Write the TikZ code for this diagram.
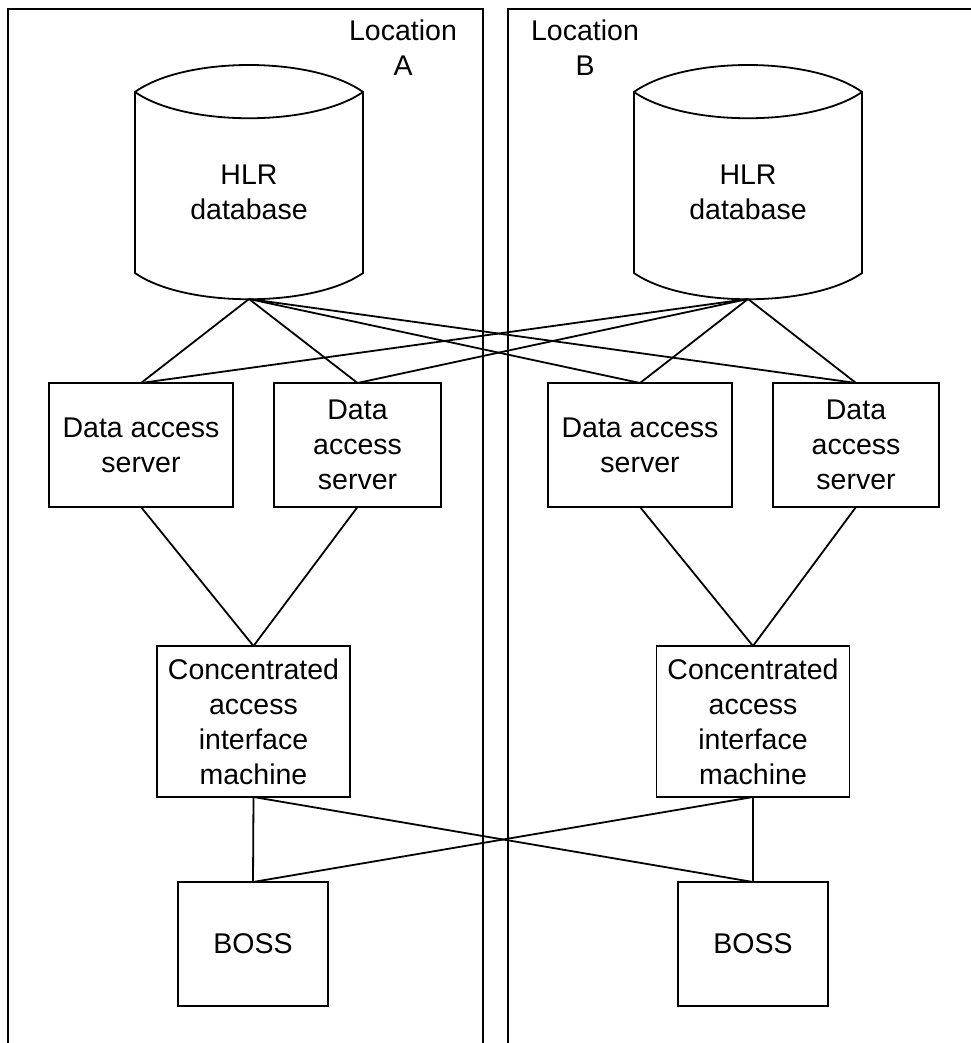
\documentclass[tikz,border=0pt]{standalone}
\usepackage{fontspec}
\setmainfont{Liberation Sans}
\begin{document}
\begin{tikzpicture}[x=1pt,y=-1pt,
  every node/.style={font=\fontsize{28.5}{35}\selectfont, align=center, inner sep=0pt, outer sep=0pt},
  box/.style={draw, line width=1.8pt, minimum height=124pt},
  line/.style={line width=1.8pt},
  panel/.style={line width=1.8pt},
  cylline/.style={line width=1.8pt, line join=miter}]
\useasboundingbox (0,0) rectangle (970,1043);
% panels
\draw[panel] (8,1050) -- (8,9) -- (483,9) -- (483,1050);
\draw[panel] (508,1050) -- (508,9) -- (980,9);
\node (locA) at (403,48) {Location\\A};
\node (locB) at (585,48) {Location\\B};
% cylinders
\foreach \s/\nm in {0/A,499/B}{
  \begin{scope}[xshift=\s pt]
    \draw[cylline] (135,273) -- (135,92) .. controls (185,56) and (313,56) .. (363,92) -- (363,273) .. controls (313,308) and (185,308) .. cycle;
    \draw[cylline] (135,92) .. controls (185,127) and (313,127) .. (363,92);
  \end{scope}
}
\node (hlrA) at (249,192) {HLR\\database};
\node (hlrB) at (748,192) {HLR\\database};
\coordinate (hlrAb) at (249,299);
\coordinate (hlrBb) at (748,299);
% data access servers
\node[box, minimum width=184pt] (dA1) at (141,445) {Data access\\server};
\node[box, minimum width=167pt] (dA2) at (357.5,445) {Data\\access\\server};
\node[box, minimum width=184pt] (dB1) at (640,445) {Data access\\server};
\node[box, minimum width=166pt] (dB2) at (856,445) {Data\\access\\server};
% concentrated
\node[box, minimum width=193pt, minimum height=151pt] (cA) at (253.5,721.5) {Concentrated\\access\\interface\\machine};
\node[box, minimum width=193pt, minimum height=151pt] (cB) at (753,721.5) {Concentrated\\access\\interface\\machine};
% BOSS
\node[box, minimum width=150pt] (bA) at (253,944) {BOSS};
\node[box, minimum width=150pt] (bB) at (753,944) {BOSS};
% connectors
\foreach \h in {hlrAb,hlrBb}{
  \foreach \d in {dA1,dA2,dB1,dB2}{
    \draw[line] (\h) -- (\d.north);
  }
}
\draw[line] (dA1.south) -- (cA.north);
\draw[line] (dA2.south) -- (cA.north);
\draw[line] (dB1.south) -- (cB.north);
\draw[line] (dB2.south) -- (cB.north);
\draw[line] (cA.south) -- (bA.north);
\draw[line] (cA.south) -- (bB.north);
\draw[line] (cB.south) -- (bB.north);
\draw[line] (cB.south) -- (bA.north);
\end{tikzpicture}
\end{document}
